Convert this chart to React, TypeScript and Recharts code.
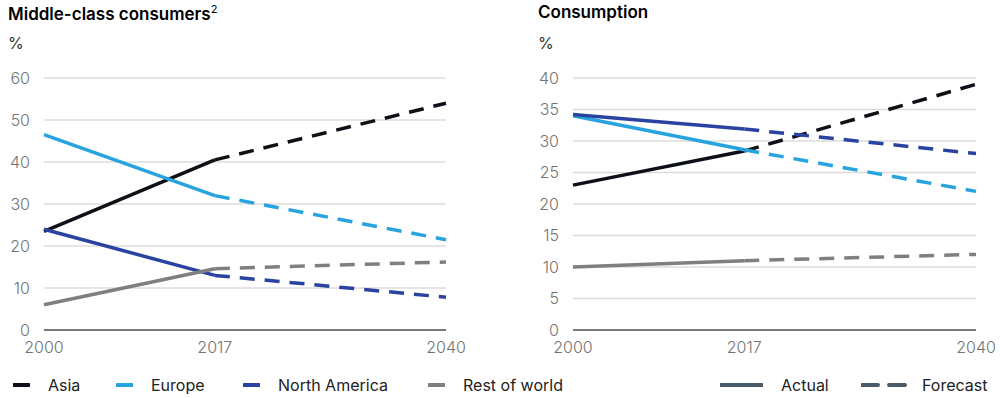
import React from "react";
import { LineChart, Line, XAxis, YAxis, CartesianGrid } from "recharts";

const years = [2000, 2017, 2040];
const seriesNames = ["Asia", "Europe", "North America", "Rest of world"];
const seriesColors = ["#0d1117", "#27a3df", "#2a43a0", "#7f7f7f"];

// Middle-class consumers, %
const midAsia = [23.5, 40.5, 54];
const midEurope = [46.5, 32, 21.5];
const midNorthAmerica = [24, 13, 7.8];
const midRest = [6, 14.6, 16.2];
const midTicks = [0, 10, 20, 30, 40, 50, 60];

// Consumption, %
const conAsia = [23, 28.4, 39];
const conEurope = [34, 28.6, 22];
const conNorthAmerica = [34.2, 31.9, 28];
const conRest = [10, 11, 12];
const conTicks = [0, 5, 10, 15, 20, 25, 30, 35, 40];

const FONT = "Inter, 'Liberation Sans', Arial, sans-serif";
const KEYS = ["asia", "eur", "na", "row"];

// split each series into actual (to 2017) and forecast (from 2017)
const buildRows = (series: number[][]) =>
  years.map((year, i) => {
    const row: Record<string, number | null> = { year };
    series.forEach((vals, s) => {
      row[KEYS[s] + "A"] = i <= 1 ? vals[i] : null;
      row[KEYS[s] + "F"] = i >= 1 ? vals[i] : null;
    });
    return row;
  });

const midRows = buildRows([midAsia, midEurope, midNorthAmerica, midRest]);
const conRows = buildRows([conAsia, conEurope, conNorthAmerica, conRest]);

const tickStyle = { fill: "#737373", fontSize: 16, fontFamily: FONT, fontWeight: 300 };

function Panel({ rows, ticks, max, left }: { rows: any[]; ticks: number[]; max: number; left: number }) {
  return (
    <LineChart width={470} height={360} data={rows} margin={{ top: 78, right: 24, left, bottom: 0 }}>
      <CartesianGrid horizontal vertical={false} stroke="#dcdcdc" strokeWidth={1.5} />
      <XAxis
        dataKey="year"
        type="number"
        domain={[2000, 2040]}
        ticks={years}
        height={30}
        tickLine={false}
        axisLine={{ stroke: "#555", strokeWidth: 1.5 }}
        tickSize={0}
        tickMargin={12}
        tick={tickStyle}
      />
      <YAxis
        type="number"
        domain={[0, max]}
        ticks={ticks}
        width={40}
        axisLine={false}
        tickLine={false}
        tickSize={0}
        tickMargin={14}
        tick={tickStyle}
      />
      {KEYS.map((k, s) => (
        <Line key={k + "A"} dataKey={k + "A"} stroke={seriesColors[s]} strokeWidth={3.5} dot={false}
          type="linear" isAnimationActive={false} connectNulls={false} />
      ))}
      {KEYS.map((k, s) => (
        <Line key={k + "F"} dataKey={k + "F"} stroke={seriesColors[s]} strokeWidth={3.5} dot={false}
          strokeDasharray="15 10" type="linear" isAnimationActive={false} connectNulls={false} />
      ))}
    </LineChart>
  );
}

const titleStyle: React.CSSProperties = { position: "absolute", fontFamily: FONT, fontSize: 17, fontWeight: 600, color: "#000", top: 2 };
const unitStyle: React.CSSProperties = { position: "absolute", fontFamily: FONT, fontSize: 16, color: "#333", top: 33 };
const legendText: React.CSSProperties = { position: "absolute", fontFamily: FONT, fontSize: 16, color: "#222", top: 375 };

function Swatch({ x, color, width = 17, dashed = false }: { x: number; color: string; width?: number; dashed?: boolean }) {
  return (
    <svg style={{ position: "absolute", left: x, top: 381 }} width={width} height={8}>
      <line x1={1} y1={4} x2={width - 1} y2={4} stroke={color} strokeWidth={4} strokeLinecap="round"
        strokeDasharray={dashed ? "16 11" : undefined} />
    </svg>
  );
}

export default function App() {
  const legendX = [13, 116, 243, 428];
  return (
    <div style={{ position: "absolute", left: 0, top: 0, width: 1000, height: 398, background: "#fff", overflow: "hidden" }}>
      <div style={{ ...titleStyle, left: 8 }}>
        Middle-class consumers<sup style={{ fontSize: 11, fontWeight: 400 }}>2</sup>
      </div>
      <div style={{ ...unitStyle, left: 8 }}>%</div>
      <div style={{ ...titleStyle, left: 538 }}>Consumption</div>
      <div style={{ ...unitStyle, left: 538 }}>%</div>

      <div style={{ position: "absolute", left: 0, top: 0 }}>
        <Panel rows={midRows} ticks={midTicks} max={60} left={4} />
      </div>
      <div style={{ position: "absolute", left: 530, top: 0 }}>
        <Panel rows={conRows} ticks={conTicks} max={40} left={3} />
      </div>

      {seriesNames.map((name, i) => (
        <React.Fragment key={name}>
          <Swatch x={legendX[i]} color={seriesColors[i]} />
          <div style={{ ...legendText, left: legendX[i] + 35 }}>{name}</div>
        </React.Fragment>
      ))}
      <Swatch x={720} color="#4a5b6a" width={43} />
      <div style={{ ...legendText, left: 781 }}>Actual</div>
      <Swatch x={861} color="#4a5b6a" width={47} dashed />
      <div style={{ ...legendText, left: 922 }}>Forecast</div>
    </div>
  );
}
